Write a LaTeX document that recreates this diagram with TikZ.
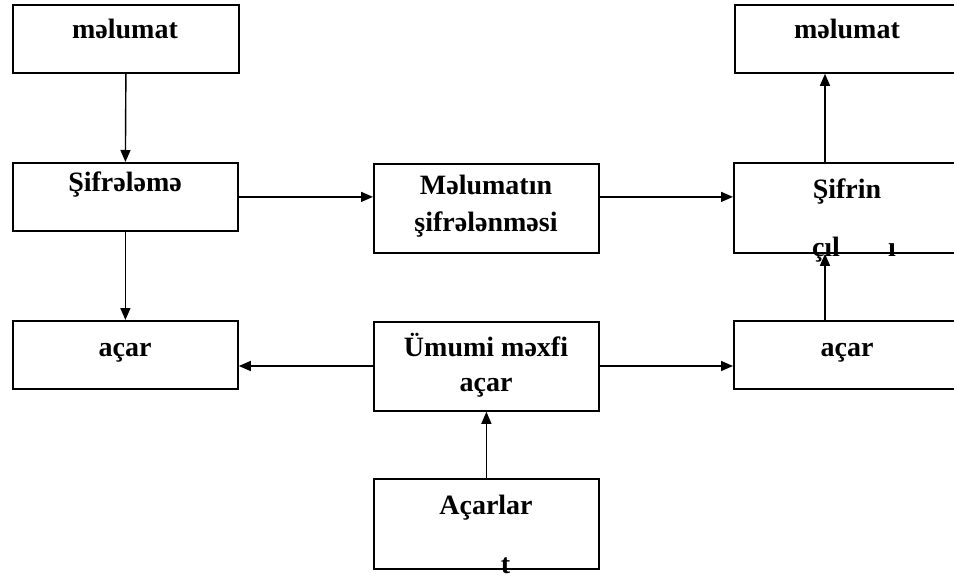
\documentclass[tikz,border=0pt]{standalone}
\usepackage{fontspec}
\setmainfont{Liberation Serif}
\usetikzlibrary{arrows.meta}

\begin{document}
\begin{tikzpicture}[x=1pt,y=-1pt,
  box/.style={draw, line width=1.8pt, rectangle, inner sep=0pt, anchor=north west},
  lbl/.style={anchor=base, inner sep=0pt, font=\fontsize{28}{32}\selectfont\bfseries},
  arr/.style={line width=1.4pt, -{Triangle[length=12pt,width=10pt]}}]

  % canvas
  \fill[white] (0,0) rectangle (954,578);
  \useasboundingbox (0,0) rectangle (954,578);

  % left column
  \node[box, minimum width=226pt, minimum height=68pt] (m1)  at (12,4)   {};
  \node[box, minimum width=225pt, minimum height=68pt] (sif) at (12,162) {};
  \node[box, minimum width=225pt, minimum height=68pt] (acL) at (12,320) {};

  % middle column
  \node[box, minimum width=225pt, minimum height=89pt] (mel) at (373,163) {};
  \node[box, minimum width=225pt, minimum height=89pt] (umu) at (373,321) {};
  \node[box, minimum width=225pt, minimum height=90pt] (gen) at (373,478) {};

  % right column
  \node[box, minimum width=226pt, minimum height=68pt] (m2)  at (734,4)   {};
  \node[box, minimum width=227pt, minimum height=90pt] (sfr) at (733,162) {};
  \node[box, minimum width=227pt, minimum height=68pt] (acR) at (733,320) {};

  % labels
  \node[lbl] (t1)  at (125,39)  {məlumat};
  \node[lbl] (t2)  at (847,39)  {məlumat};
  \node[lbl] (t3)  at (125,191) {Şifrələmə};
  \node[lbl] (t4a) at (486,194) {Məlumatın};
  \node[lbl] (t4b) at (486,231) {şifrələnməsi};
  \node[lbl] (t5a) at (847,198) {Şifrin};
  \node[lbl] (t5b) at (847,256) {\phantom{a}çıl\phantom{mas}ı};
  \node[lbl] (t6)  at (125,356) {açar};
  \node[lbl] (t7a) at (486,356) {Ümumi məxfi};
  \node[lbl] (t7b) at (486,391) {açar};
  \node[lbl] (t8)  at (847,356) {açar};
  \node[lbl] (t9a) at (486,514) {Açarlar};
  \node[lbl] (t9b) at (486,573) {\phantom{genera}t\phantom{oru}};

  % connectors
  \coordinate (rx) at (825,0);
  \draw[arr] (m1.south) -- (sif.north);
  \draw[arr] (sif.south) -- (acL.north);
  \draw[arr] (sif.east) -- (sif.east -| mel.west);
  \draw[arr] (mel.east |- sif.east) -- (sif.east -| sfr.west);
  \draw[arr] (sfr.north -| rx) -- (m2.south -| rx);
  \draw[arr] (acR.north -| rx) -- (sfr.south -| rx);
  \draw[arr] (umu.west |- 0,366) -- (acL.east |- 0,366);
  \draw[arr] (umu.east |- 0,366) -- (acR.west |- 0,366);
  \draw[arr] (gen.north) -- (umu.south);
\end{tikzpicture}
\end{document}
